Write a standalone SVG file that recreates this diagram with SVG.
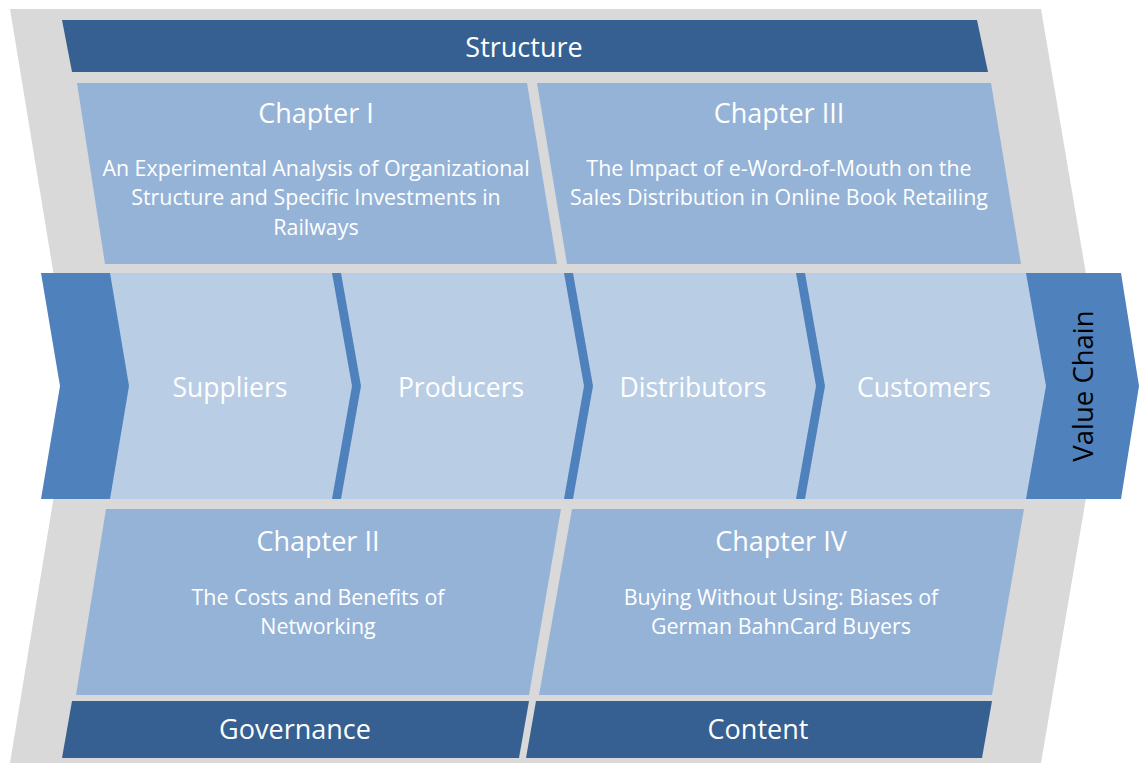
<svg xmlns="http://www.w3.org/2000/svg" width="1139" height="764" viewBox="0 0 1139 764">
  <style>
    .bg { fill: #D9D9D9; }
    .bar { fill: #366092; }
    .chap { fill: #95B3D7; }
    .vc-dark { fill: #4F81BD; }
    .vc-light { fill: #B9CDE5; }
    text { font-family: "Open Sans", "Noto Sans", "DejaVu Sans", sans-serif; fill: #FFFFFF; text-anchor: middle; }
    .t-bar { font-size: 27px; }
    .t-head { font-size: 27px; }
    .t-body { font-size: 21.4px; }
    .t-step { font-size: 26.5px; }
    .t-vc { font-size: 27.5px; fill: #000000; }
  </style>

  <!-- grey backdrop chevron -->
  <polygon class="bg" points="10,9 1041,9 1105,386 1041,763 10,763 72,386"/>

  <g id="structure">
    <polygon class="bar" points="62,20 977,20 988,72 72,72"/>
    <text class="t-bar" x="524" y="57">Structure</text>
  </g>

  <g id="chapter1">
    <polygon class="chap" points="77,83 527,83 557,264 105,264"/>
    <text class="t-head" x="316" y="123">Chapter I</text>
    <text class="t-body" x="316" y="176">An Experimental Analysis of Organizational</text>
    <text class="t-body" x="316" y="205">Structure and Specific Investments in</text>
    <text class="t-body" x="316" y="235">Railways</text>
  </g>

  <g id="chapter3">
    <polygon class="chap" points="537,83 991,83 1021,264 567,264"/>
    <text class="t-head" x="779" y="123">Chapter III</text>
    <text class="t-body" x="779" y="176">The Impact of e-Word-of-Mouth on the</text>
    <text class="t-body" x="779" y="205">Sales Distribution in Online Book Retailing</text>
  </g>

  <g id="value-chain">
    <polygon class="vc-dark" points="41,273 1121,273 1139,386 1121,499 41,499 60,386"/>
    <text class="t-vc" transform="translate(1093,386) rotate(-90)" x="0" y="0">Value Chain</text>
  </g>

  <g id="suppliers">
    <polygon class="vc-light" points="110,273 332,273 352,386 332,499 110,499 129,386"/>
    <text class="t-step" x="230" y="397">Suppliers</text>
  </g>
  <g id="producers">
    <polygon class="vc-light" points="341,273 564,273 584,386 564,499 341,499 361,386"/>
    <text class="t-step" x="461" y="397">Producers</text>
  </g>
  <g id="distributors">
    <polygon class="vc-light" points="573,273 796,273 816,386 796,499 573,499 593,386"/>
    <text class="t-step" x="693" y="397">Distributors</text>
  </g>
  <g id="customers">
    <polygon class="vc-light" points="805,273 1026,273 1046,386 1026,499 805,499 825,386"/>
    <text class="t-step" x="924" y="397">Customers</text>
  </g>

  <g id="chapter2">
    <polygon class="chap" points="106,509 561,509 529,695 76,695"/>
    <text class="t-head" x="318" y="551">Chapter II</text>
    <text class="t-body" x="318" y="605">The Costs and Benefits of</text>
    <text class="t-body" x="318" y="634">Networking</text>
  </g>

  <g id="chapter4">
    <polygon class="chap" points="572,509 1024,509 992,695 539,695"/>
    <text class="t-head" x="781" y="551">Chapter IV</text>
    <text class="t-body" x="781" y="605">Buying Without Using: Biases of</text>
    <text class="t-body" x="781" y="634">German BahnCard Buyers</text>
  </g>

  <g id="governance">
    <polygon class="bar" points="72,701 529,701 519,758 62,758"/>
    <text class="t-bar" x="295" y="739">Governance</text>
  </g>

  <g id="content">
    <polygon class="bar" points="536,701 992,701 982,758 526,758"/>
    <text class="t-bar" x="758" y="739">Content</text>
  </g>

  <!-- no connectors in this layout -->
  <g id="connectors"/>
</svg>
